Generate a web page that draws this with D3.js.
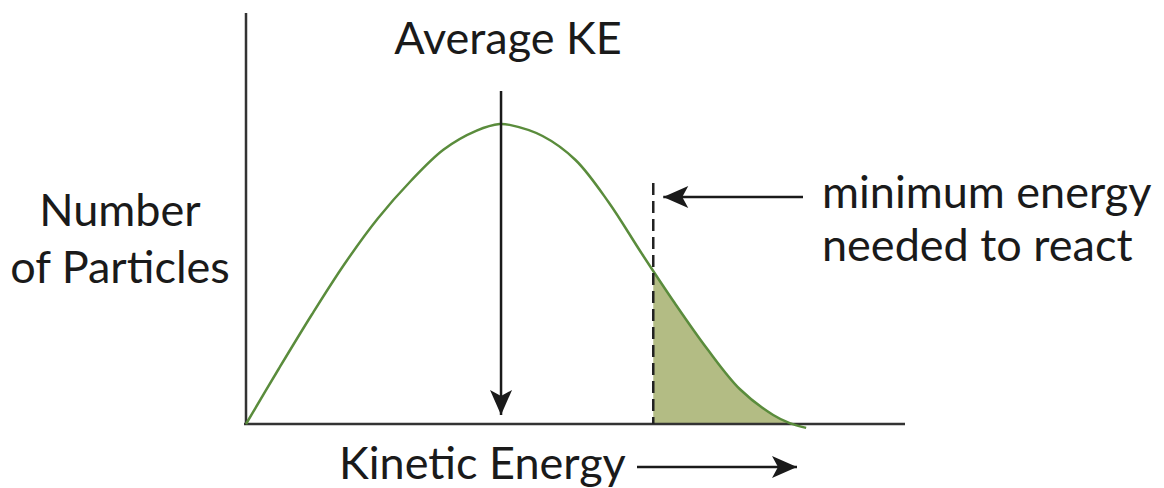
<!DOCTYPE html>
<html lang="en">
<head>
    <meta charset="UTF-8">
    <title>Kinetic Energy Distribution</title>
    <style>
        body { margin: 0; background: #fff; }
        text { font-family: Lato, "Open Sans", sans-serif; fill: #1a1a1a; }
    </style>
</head>
<body>
    <svg id="chart" width="1164" height="488"></svg>

    <script src="https://d3js.org/d3.v7.min.js"></script>
    <script>
        // energy (arbitrary units) and number of particles (% of peak)
        const energy    = [0, 5, 10, 15, 20, 25, 30, 35, 38.5, 40, 45, 50, 55, 60, 65, 70, 75, 80, 82.5, 85];
        const particles = [0, 18.5, 36.5, 53.5, 68.5, 81, 91.5, 97.8, 100, 99.7, 96, 88, 74, 57, 40.5, 25, 11.5, 3, 0.3, -1.3];
        const averageKE = 38.7;
        const minEnergy = 61.8;
        const labels = {
            top: "Average KE",
            y: ["Number", "of Particles"],
            x: "Kinetic Energy",
            note: ["minimum energy", "needed to react"]
        };

        const svg = d3.select("#chart");
        const x = d3.scaleLinear().domain([0, 100]).range([246, 905]);
        const y = d3.scaleLinear().domain([0, 100]).range([424, 124]);
        const pts = energy.map((e, i) => [e, particles[i]]);

        // arrow heads
        const defs = svg.append("defs");
        defs.append("marker")
            .attr("id", "head")
            .attr("markerUnits", "userSpaceOnUse")
            .attr("viewBox", "-26 -12 28 24")
            .attr("markerWidth", 28).attr("markerHeight", 24)
            .attr("refX", 0).attr("refY", 0)
            .attr("orient", "auto")
            .append("path")
            .attr("d", "M0,0 L-25,-11 L-19,0 L-25,11 Z")
            .attr("fill", "#1a1a1a");

        defs.append("clipPath").attr("id", "tail")
            .append("rect")
            .attr("x", x(minEnergy)).attr("y", 0)
            .attr("width", 905 - x(minEnergy)).attr("height", y(0));

        const curve = d3.curveCatmullRom.alpha(0.5);

        // shaded region past the minimum energy
        const area = d3.area()
            .x(d => x(d[0]))
            .y0(y(0))
            .y1(d => y(d[1]))
            .curve(curve);

        svg.append("path")
            .datum(pts)
            .attr("d", area)
            .attr("fill", "#b3bc84")
            .attr("clip-path", "url(#tail)");

        // axes
        svg.append("line")
            .attr("x1", x(0)).attr("x2", x(0))
            .attr("y1", 13).attr("y2", y(0) + 1)
            .attr("stroke", "#333").attr("stroke-width", 2.5);
        svg.append("line")
            .attr("x1", x(0) - 2).attr("x2", x(100))
            .attr("y1", y(0)).attr("y2", y(0))
            .attr("stroke", "#333").attr("stroke-width", 2.5);

        // distribution curve
        const line = d3.line()
            .x(d => x(d[0]))
            .y(d => y(d[1]))
            .curve(curve);

        svg.append("path")
            .datum(pts)
            .attr("d", line)
            .attr("fill", "none")
            .attr("stroke", "#5a8c3c")
            .attr("stroke-width", 2.5);

        // minimum energy dashed line
        svg.append("line")
            .attr("x1", x(minEnergy)).attr("x2", x(minEnergy))
            .attr("y1", 183).attr("y2", y(0))
            .attr("stroke", "#222").attr("stroke-width", 2.5)
            .attr("stroke-dasharray", "12,6");

        // average KE arrow
        svg.append("line")
            .attr("x1", x(averageKE)).attr("x2", x(averageKE))
            .attr("y1", 91).attr("y2", 415)
            .attr("stroke", "#1a1a1a").attr("stroke-width", 2.5)
            .attr("marker-end", "url(#head)");

        // minimum energy arrow
        svg.append("line")
            .attr("x1", 803).attr("x2", x(minEnergy) + 10)
            .attr("y1", 197).attr("y2", 197)
            .attr("stroke", "#1a1a1a").attr("stroke-width", 2.5)
            .attr("marker-end", "url(#head)");

        // kinetic energy arrow
        svg.append("line")
            .attr("x1", 637).attr("x2", 797)
            .attr("y1", 467).attr("y2", 467)
            .attr("stroke", "#1a1a1a").attr("stroke-width", 2.5)
            .attr("marker-end", "url(#head)");

        // labels
        const fs = 45;
        svg.append("text")
            .attr("x", 508).attr("y", 54)
            .attr("text-anchor", "middle")
            .attr("font-size", fs)
            .text(labels.top);

        svg.selectAll(".ylab")
            .data(labels.y)
            .enter().append("text")
            .attr("class", "ylab")
            .attr("x", 120)
            .attr("y", (d, i) => 226 + i * 57)
            .attr("text-anchor", "middle")
            .attr("font-size", fs)
            .text(d => d);

        svg.selectAll(".note")
            .data(labels.note)
            .enter().append("text")
            .attr("class", "note")
            .attr("x", 822)
            .attr("y", (d, i) => 208 + i * 53)
            .attr("font-size", fs)
            .text(d => d);

        svg.append("text")
            .attr("x", 339).attr("y", 479)
            .attr("font-size", fs)
            .text(labels.x);
    </script>
</body>
</html>
